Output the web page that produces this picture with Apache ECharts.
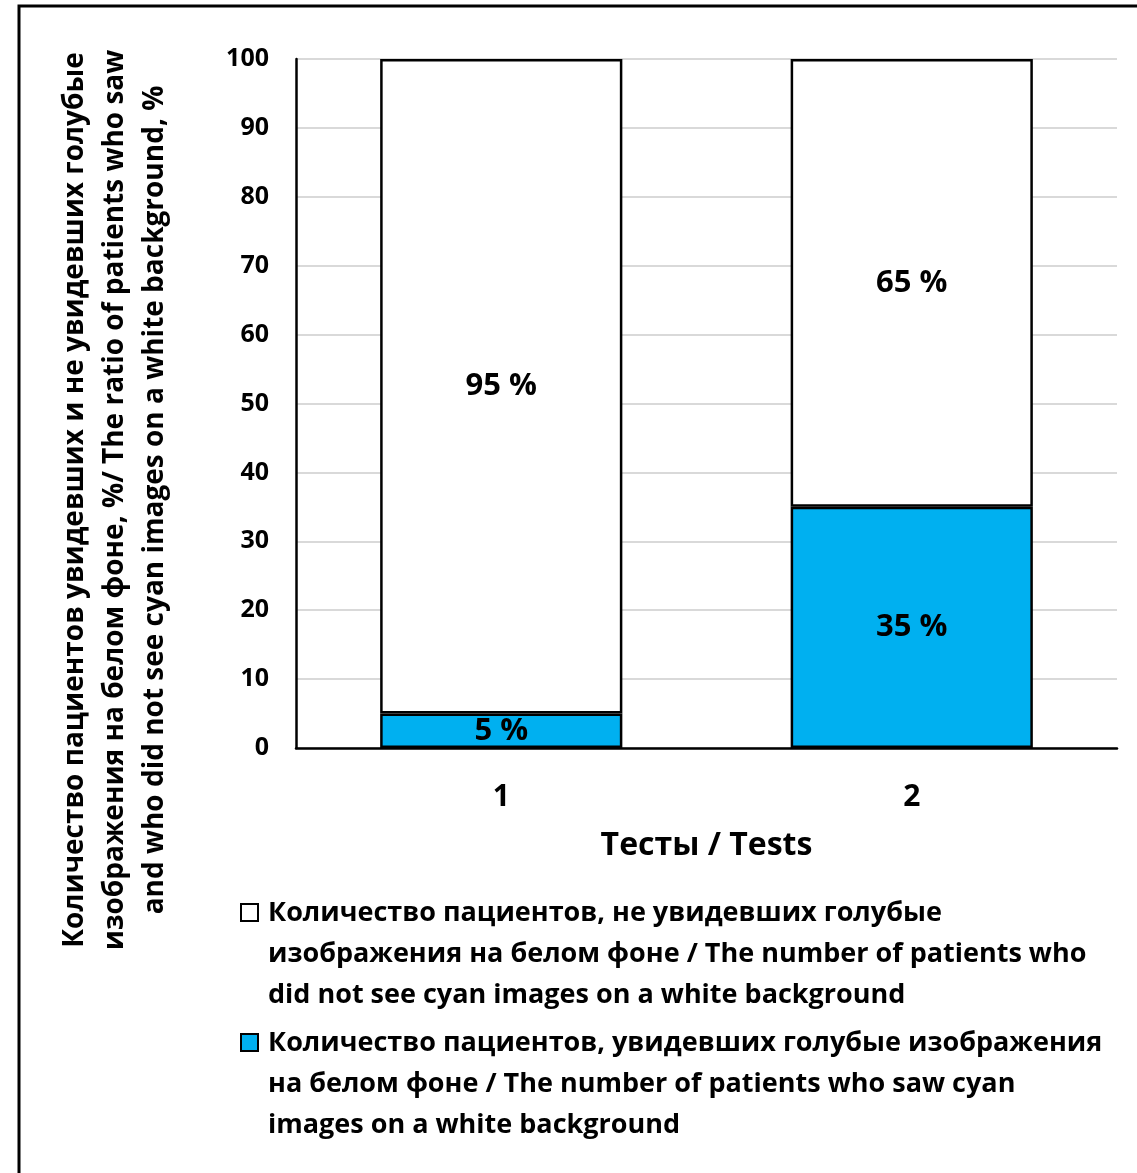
<!DOCTYPE html>
<html>
<head>
<meta charset="utf-8">
<script src="https://cdn.jsdelivr.net/npm/echarts@6/dist/echarts.min.js"></script>
<style>
  html, body { margin: 0; padding: 0; background: #fff; }
  #chart { width: 1137px; height: 1173px; }
</style>
</head>
<body>
<div id="chart"></div>
<script>
// Test categories and percentage shares per test
const categories = ['1', '2'];
const sawCyan = [5, 35];        // patients who saw cyan images, %
const didNotSee = [95, 65];     // patients who did not see cyan images, %
const yTicks = [0, 10, 20, 30, 40, 50, 60, 70, 80, 90, 100];

const seriesNames = [
  'Количество пациентов, увидевших голубые изображения на белом фоне / The number of patients who saw cyan images on a white background',
  'Количество пациентов, не увидевших голубые изображения на белом фоне / The number of patients who did not see cyan images on a white background'
];

const FONT = '"Open Sans", "Noto Sans", sans-serif';
const CYAN = '#00B0F0';

const chart = echarts.init(document.getElementById('chart'), null, { renderer: 'canvas' });

const labelStyle = {
  show: true,
  position: 'inside',
  color: '#000',
  fontFamily: FONT,
  fontWeight: 'bold',
  fontSize: 31,
  formatter: p => p.value + ' %'
};

chart.setOption({
  animation: false,
  backgroundColor: '#fff',
  grid: { left: 296, right: 20, top: 59, bottom: 425, containLabel: false },
  xAxis: {
    type: 'category',
    data: categories,
    axisLine: { show: true, lineStyle: { color: '#000', width: 2.5 } },
    axisTick: { show: false },
    axisLabel: { color: '#000', fontFamily: FONT, fontWeight: 'bold', fontSize: 30, margin: 34 },
    name: 'Тесты / Tests',
    nameLocation: 'middle',
    nameGap: 82,
    nameTextStyle: { color: '#000', fontFamily: FONT, fontWeight: 'bold', fontSize: 32 }
  },
  yAxis: {
    type: 'value',
    min: yTicks[0],
    max: yTicks[yTicks.length - 1],
    interval: 10,
    axisLine: { show: true, lineStyle: { color: '#000', width: 2.5 } },
    axisTick: { show: false },
    axisLabel: { color: '#000', fontFamily: FONT, fontWeight: 'bold', fontSize: 25, margin: 27 },
    splitLine: { show: true, lineStyle: { color: '#d9d9d9', width: 2 } }
  },
  series: [
    {
      name: seriesNames[0],
      type: 'bar',
      stack: 'total',
      data: sawCyan,
      barWidth: '59%',
      itemStyle: { color: CYAN, borderColor: '#000', borderWidth: 2.5 },
      label: labelStyle
    },
    {
      name: seriesNames[1],
      type: 'bar',
      stack: 'total',
      data: didNotSee,
      barWidth: '59%',
      itemStyle: { color: '#fff', borderColor: '#000', borderWidth: 2.5 },
      label: labelStyle
    }
  ],
  graphic: [
    // outer frame
    {
      type: 'rect',
      shape: { x: 19, y: 6, width: 1140, height: 1190 },
      style: { fill: 'none', stroke: '#000', lineWidth: 3 },
      silent: true
    },
    // rotated y-axis title
    {
      type: 'text',
      x: 115,
      y: 500,
      rotation: Math.PI / 2,
      style: {
        text: 'Количество пациентов увидевших и не увидевших голубые\nизображения на белом фоне, %/ The ratio of patients who saw\nand who did not see cyan images on a white background, %',
        fontFamily: FONT,
        fontWeight: 'bold',
        fontSize: 28,
        lineHeight: 40,
        fill: '#000',
        align: 'center',
        verticalAlign: 'middle'
      }
    },
    // legend: did not see
    {
      type: 'rect',
      shape: { x: 241, y: 904, width: 17, height: 17 },
      style: { fill: '#fff', stroke: '#000', lineWidth: 2 }
    },
    {
      type: 'text',
      x: 268,
      y: 893,
      style: {
        text: 'Количество пациентов, не увидевших голубые\nизображения на белом фоне / The number of patients who\ndid not see cyan images on a white background',
        fontFamily: FONT,
        fontWeight: 'bold',
        fontSize: 27,
        lineHeight: 41,
        fill: '#000',
        align: 'left',
        verticalAlign: 'top'
      }
    },
    // legend: saw
    {
      type: 'rect',
      shape: { x: 241, y: 1034, width: 17, height: 17 },
      style: { fill: CYAN, stroke: '#000', lineWidth: 2 }
    },
    {
      type: 'text',
      x: 268,
      y: 1023,
      style: {
        text: 'Количество пациентов, увидевших голубые изображения\nна белом фоне / The number of patients who saw cyan\nimages on a white background',
        fontFamily: FONT,
        fontWeight: 'bold',
        fontSize: 27,
        lineHeight: 41,
        fill: '#000',
        align: 'left',
        verticalAlign: 'top'
      }
    }
  ]
});
</script>
</body>
</html>
